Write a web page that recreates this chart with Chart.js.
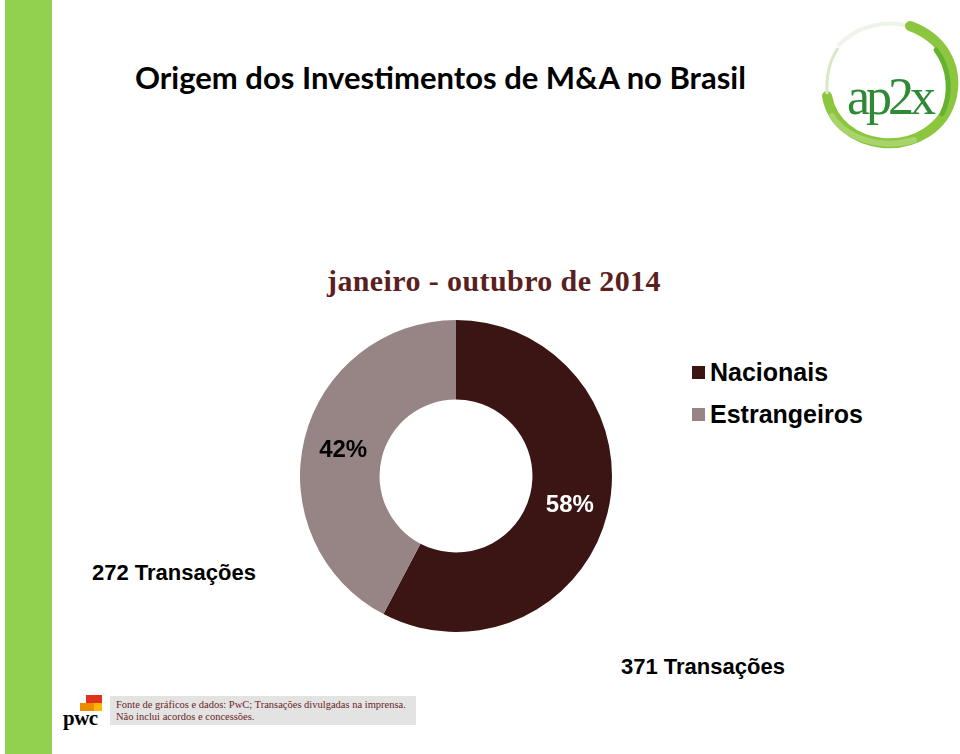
<!DOCTYPE html>
<html lang="pt-BR">
<head>
<meta charset="utf-8">
<title>Origem dos Investimentos de M&amp;A no Brasil</title>
<script src="https://cdn.jsdelivr.net/npm/chart.js@4.4.1/dist/chart.umd.min.js"></script>
<style>
    html, body { margin: 0; padding: 0; background: #fff; }
    body { width: 960px; height: 754px; position: relative; overflow: hidden; font-family: "Liberation Sans", Arial, sans-serif; }
    .barra { position: absolute; left: 5px; top: 0; width: 47px; height: 754px; background: #92d050; }
    .titulo { position: absolute; left: 135px; top: 58px; font-family: Lato, "Open Sans", sans-serif; font-weight: 700; font-size: 31px; color: #000; white-space: nowrap; }
    .subtitulo { position: absolute; left: 327px; top: 264px; font-family: "Liberation Serif", serif; font-weight: 700; font-size: 30px; letter-spacing: 0.4px; color: #5b1f1f; white-space: nowrap; }
    #graficoWrap { position: absolute; left: 300px; top: 320px; width: 312px; height: 312px; }
    #legenda { position: absolute; left: 692px; top: 351px; }
    #legenda div { display: flex; align-items: center; height: 42px; font-weight: 700; font-size: 25px; color: #000; }
    #legenda span.cor { display: inline-block; width: 13px; height: 13px; margin-right: 5px; }
    .transacoes { position: absolute; font-weight: 700; font-size: 22px; color: #000; white-space: nowrap; }
    .fonte { position: absolute; left: 110px; top: 696px; width: 306px; height: 29px; background: #e3e3e3; font-family: "Liberation Serif", serif; font-size: 10.5px; line-height: 12px; color: #6b2424; padding: 3px 0 0 6px; box-sizing: border-box; white-space: nowrap; overflow: hidden; }
    .pwc { position: absolute; left: 63px; top: 706px; font-family: "Liberation Serif", serif; font-weight: 700; font-size: 21px; color: #000; letter-spacing: -0.5px; }
    .pwcBloco { position: absolute; }
</style>
</head>
<body>
<div class="barra"></div>
<div class="titulo">Origem dos Investimentos de M&amp;A no Brasil</div>

<svg style="position:absolute;left:818px;top:16px" width="142" height="135" viewBox="0 0 142 135">
    <path d="M20 30 C 40 8, 70 4, 92 10" fill="none" stroke="#eef4e8" stroke-width="4"/>
    <path d="M92 10 C 125 22, 140 50, 134 80 C 127 112, 96 130, 64 127 C 38 124, 14 108, 9 80" fill="none" stroke="#8cc63f" stroke-width="10" stroke-linecap="round"/>
    <path d="M118 34 C 132 52, 134 78, 124 98" fill="none" stroke="#64b22f" stroke-width="5" stroke-linecap="round"/>
    <path d="M14 100 C 28 122, 62 134, 96 124" fill="none" stroke="#a9d46b" stroke-width="6" stroke-linecap="round"/>
    <path d="M9 78 C 8 60, 12 44, 20 32" fill="none" stroke="#d7eac3" stroke-width="3"/>
    <text x="29" y="98" font-family="Liberation Serif, serif" font-size="52" letter-spacing="-4" fill="#2f8a35">ap2x</text>
</svg>

<div class="subtitulo">janeiro - outubro de 2014</div>

<div id="graficoWrap"><canvas id="origemChart" width="312" height="312"></canvas></div>
<div id="legenda"></div>

<div class="transacoes" style="left:92px;top:560px">272 Transações</div>
<div class="transacoes" style="left:621px;top:654px">371 Transações</div>

<div class="pwcBloco" style="left:86px;top:695px;width:16px;height:8px;background:#e0301e"></div>
<div class="pwcBloco" style="left:80px;top:703px;width:22px;height:8px;background:#eb8c00"></div>
<div class="pwcBloco" style="left:94px;top:703px;width:8px;height:8px;background:#ffb600"></div>
<div class="pwc">pwc</div>
<div class="fonte">Fonte de gráficos e dados: PwC; Transações divulgadas na imprensa.<br>Não inclui acordos e concessões.</div>

<script>
const origens = ['Nacionais', 'Estrangeiros'];
const transacoes = [371, 272];
const cores = ['#3b1513', '#968584'];
const coresRotulo = ['#ffffff', '#000000'];

document.addEventListener('DOMContentLoaded', () => {
    const total = transacoes.reduce((a, b) => a + b, 0);

    // legenda em html, feita a partir dos mesmos arrays
    const legenda = document.getElementById('legenda');
    origens.forEach((nome, i) => {
        const linha = document.createElement('div');
        linha.innerHTML = `<span class="cor" style="background:${cores[i]}"></span>${nome}`;
        legenda.appendChild(linha);
    });

    const rotulosPct = {
        id: 'rotulosPct',
        afterDatasetsDraw(chart) {
            const { ctx } = chart;
            const meta = chart.getDatasetMeta(0);
            ctx.save();
            ctx.font = 'bold 24px "Liberation Sans", Arial, sans-serif';
            ctx.textAlign = 'center';
            ctx.textBaseline = 'middle';
            meta.data.forEach((arc, i) => {
                const pos = arc.tooltipPosition();
                const pct = Math.round(transacoes[i] / total * 100);
                ctx.fillStyle = coresRotulo[i];
                ctx.fillText(`${pct}%`, pos.x + (i === 0 ? 1 : 0), pos.y + 2);
            });
            ctx.restore();
        }
    };

    new Chart(document.getElementById('origemChart'), {
        type: 'doughnut',
        data: {
            labels: origens,
            datasets: [{
                data: transacoes,
                backgroundColor: cores,
                borderWidth: 0
            }]
        },
        options: {
            responsive: false,
            animation: false,
            cutout: '49%',
            layout: { padding: 0 },
            plugins: {
                legend: { display: false },
                tooltip: { enabled: false }
            }
        },
        plugins: [rotulosPct]
    });
});
</script>
</body>
</html>
